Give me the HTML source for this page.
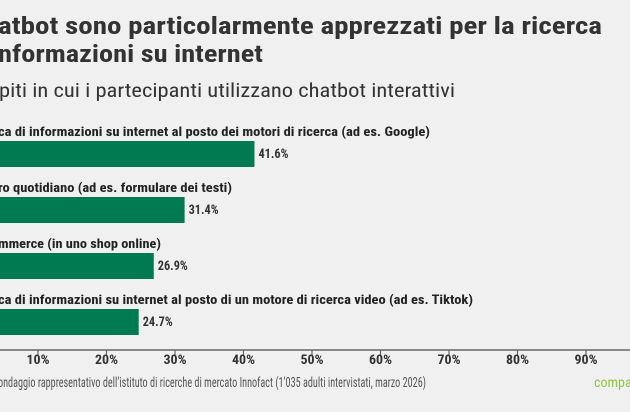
<!DOCTYPE html>
<html><head><meta charset="utf-8"><style>
html,body{margin:0;padding:0;background:#f0f0f0;}
svg{display:block;font-family:"Roboto Condensed","Liberation Sans Narrow","Liberation Sans",sans-serif;}
</style></head><body>
<svg width="630" height="412" viewBox="0 0 630 412">
<rect width="630" height="412" fill="#f0f0f0"/>
<text x="-2" y="34" font-size="24" font-weight="bold" fill="#333" textLength="604" lengthAdjust="spacingAndGlyphs">atbot sono particolarmente apprezzati per la ricerca</text>
<text x="-2" y="62" font-size="24" font-weight="bold" fill="#333" textLength="265" lengthAdjust="spacingAndGlyphs">nformazioni su internet</text>
<text x="-1" y="97" font-size="19" fill="#333" textLength="456" lengthAdjust="spacingAndGlyphs">piti in cui i partecipanti utilizzano chatbot interattivi</text>
<g id="bars"></g>
<g id="axis"></g>
<text x="-2" y="387" font-size="13.5" fill="#555" textLength="428" lengthAdjust="spacingAndGlyphs">ondaggio rappresentativo dell’istituto di ricerche di mercato Innofact (1’035 adulti intervistati, marzo 2026)</text>
<text x="594" y="387" font-size="14" fill="#8cc63f">compa</text>
</svg>
<script>
const categories=["ca di informazioni su internet al posto dei motori di ricerca (ad es. Google)","ro quotidiano (ad es. formulare dei testi)","mmerce (in uno shop online)","ca di informazioni su internet al posto di un motore di ricerca video (ad es. Tiktok)"];
const values=[41.6,31.4,26.9,24.7];
const ticks=[10,20,30,40,50,60,70,80,90];
const labelWidths=[430,232,161,473];
const NS="http://www.w3.org/2000/svg";
const x=v=>-30.5+v*6.85;
const barTop=i=>141+i*56;
function mk(t,a,p){const e=document.createElementNS(NS,t);for(const k in a)e.setAttribute(k,a[k]);p.appendChild(e);return e;}
const bars=document.getElementById('bars');
values.forEach((v,i)=>{
  const y=barTop(i);
  const l=mk('text',{x:-2,y:y-5,'font-size':13,'font-weight':'bold',fill:'#222',textLength:labelWidths[i]+2,lengthAdjust:'spacingAndGlyphs'},bars);
  
  
  l.textContent=categories[i];
  const r=mk('rect',{x:x(0),y:y,width:x(v)-x(0),height:26,fill:'#007a50'},bars);
  
  
  const t=mk('text',{x:x(v)+4,y:y+17,'font-size':13,'font-weight':'bold',fill:'#333',textLength:30,lengthAdjust:'spacingAndGlyphs'},bars);
  
  
  t.textContent=v.toFixed(1)+'%';
});
const ax=document.getElementById('axis');
const al=mk('line',{x1:0,x2:630,y1:350,y2:350,stroke:'#666','stroke-width':1.5},ax);


ticks.forEach(v=>{
  const tk=mk('line',{x1:x(v),x2:x(v),y1:350,y2:355,stroke:'#666','stroke-width':1.2},ax);
  
  
  const tl=mk('text',{x:x(v),y:364,'font-size':13,'font-weight':'bold',fill:'#333','text-anchor':'middle',textLength:23,lengthAdjust:'spacingAndGlyphs'},ax);
  
  
  tl.textContent=v+'%';
});
</script>
</body></html>
